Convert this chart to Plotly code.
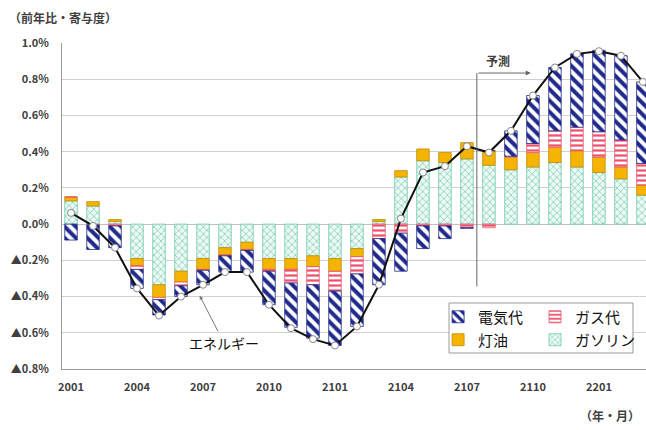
import plotly.graph_objects as go

months = ["2001", "2002", "2003", "2004", "2005", "2006", "2007", "2008", "2009",
          "2010", "2011", "2012", "2101", "2102", "2103", "2104", "2105", "2106",
          "2107", "2108", "2109", "2110", "2111", "2112", "2201", "2202", "2203"]

gasoline = [0.128, 0.10, 0.015, -0.19, -0.335, -0.26, -0.19, -0.13, -0.10,
            -0.19, -0.19, -0.175, -0.19, -0.135, 0.015, 0.26, 0.35, 0.34,
            0.36, 0.325, 0.30, 0.315, 0.34, 0.315, 0.285, 0.25, 0.16]
kerosene = [0.022, 0.024, 0.01, -0.04, -0.07, -0.06, -0.06, -0.04, -0.04,
            -0.06, -0.06, -0.06, -0.07, -0.045, 0.01, 0.035, 0.065, 0.055,
            0.09, 0.08, 0.07, 0.08, 0.085, 0.09, 0.085, 0.065, 0.055]
gas = [0.0, -0.005, -0.01, -0.02, -0.012, -0.02, -0.005, -0.005, -0.005,
       -0.01, -0.075, -0.10, -0.11, -0.095, -0.08, -0.05, -0.01, -0.01,
       -0.02, -0.02, 0.005, 0.05, 0.09, 0.13, 0.14, 0.15, 0.12]
electricity = [-0.088, -0.135, -0.12, -0.105, -0.085, -0.06, -0.08, -0.09, -0.12,
               -0.185, -0.245, -0.295, -0.30, -0.29, -0.255, -0.21, -0.125, -0.07,
               -0.003, 0.0, 0.14, 0.265, 0.35, 0.405, 0.45, 0.465, 0.45]
energy_total = [0.062, -0.01, -0.13, -0.355, -0.505, -0.40, -0.335, -0.265, -0.265,
                -0.445, -0.575, -0.635, -0.67, -0.565, -0.335, 0.03, 0.285, 0.32,
                0.43, 0.395, 0.515, 0.71, 0.865, 0.94, 0.955, 0.93, 0.785]

x_tick_labels = ["2001", "2004", "2007", "2010", "2101", "2104", "2107", "2110", "2201"]
y_tick_vals = [1.0, 0.8, 0.6, 0.4, 0.2, 0.0, -0.2, -0.4, -0.6, -0.8]
y_tick_text = ["1.0%", "0.8%", "0.6%", "0.4%", "0.2%", "0.0%",
               "▲0.2%", "▲0.4%", "▲0.6%", "▲0.8%"]

FONT = "Noto Sans CJK JP"

fig = go.Figure()

fig.add_trace(go.Bar(
    x=months, y=gasoline, name="ガソリン", legend="legend4",
    marker=dict(color="#eef9f4",
                pattern=dict(shape="x", fgcolor="#5cc6a4", bgcolor="#eef9f4",
                             size=5, solidity=0.22, fillmode="replace"),
                line=dict(color="#6ccab0", width=0.8)),
))
fig.add_trace(go.Bar(
    x=months, y=kerosene, name="灯油", legend="legend3",
    marker=dict(color="#f5b400", line=dict(color="#c08c00", width=0.8)),
))
fig.add_trace(go.Bar(
    x=months, y=gas, name="ガス代", legend="legend2",
    marker=dict(color="#ffffff",
                pattern=dict(shape="-", fgcolor="#f0506e", bgcolor="#ffffff",
                             size=5, solidity=0.45, fillmode="replace"),
                line=dict(color="#e8506a", width=0.8)),
))
fig.add_trace(go.Bar(
    x=months, y=electricity, name="電気代", legend="legend",
    marker=dict(color="#ffffff",
                pattern=dict(shape="\\", fgcolor="#1f2a8a", bgcolor="#ffffff",
                             size=8, solidity=0.5, fillmode="replace"),
                line=dict(color="#1f2a8a", width=0.8)),
))
fig.add_trace(go.Scatter(
    x=months, y=energy_total, name="エネルギー", mode="lines+markers",
    showlegend=False,
    line=dict(color="#111111", width=2),
    marker=dict(symbol="circle", size=7, color="#ffffff",
                line=dict(color="#888888", width=1)),
))

# 予測 bracket arrow
fig.add_shape(type="line", xref="x", yref="y", x0=18.45, x1=18.45, y0=-0.345, y1=0.834,
              line=dict(color="#666666", width=1))
fig.add_annotation(x=20.9, y=0.834, ax=18.45, ay=0.834, xref="x", yref="y",
                   axref="x", ayref="y", text="", showarrow=True,
                   arrowhead=2, arrowsize=1, arrowwidth=1, arrowcolor="#666666")
fig.add_annotation(x=19.4, y=0.904, xref="x", yref="y", text="予測", showarrow=False,
                   font=dict(family=FONT, size=12, color="#404040", weight="bold"))

# エネルギー label
fig.add_annotation(x=5.85, y=-0.395, ax=6.95, ay=-0.655, xref="x", yref="y",
                   axref="x", ayref="y", text="エネルギー", showarrow=True,
                   arrowhead=2, arrowsize=0.8, arrowwidth=1, arrowcolor="#777777",
                   font=dict(family=FONT, size=14, color="#111111"))

fig.add_annotation(x=-0.094, y=1.077, xref="paper", yref="paper", xanchor="left",
                   yanchor="middle", text="（前年比・寄与度）", showarrow=False,
                   font=dict(family=FONT, size=12, color="#404040", weight="bold"))
fig.add_annotation(x=0.993, y=-0.144, xref="paper", yref="paper", xanchor="right",
                   yanchor="middle", text="（年・月）", showarrow=False,
                   font=dict(family=FONT, size=12, color="#404040", weight="bold"))

# legend frame
fig.add_shape(type="rect", xref="paper", yref="paper", x0=0.6627, x1=0.9777,
              y0=0.049, y1=0.2025, layer="above",
              fillcolor="#ffffff", line=dict(color="#999999", width=1))

leg_common = dict(orientation="v", xanchor="left", yanchor="middle",
                  bgcolor="rgba(0,0,0,0)", borderwidth=0,
                  font=dict(family=FONT, size=15, color="#111111"))

tick_font = dict(family=FONT, size=11, color="#404040", weight="bold")

fig.update_layout(
    width=646, height=430,
    margin=dict(l=62, r=0, t=43, b=61),
    barmode="relative", bargap=0.43,
    plot_bgcolor="#ffffff", paper_bgcolor="#ffffff",
    font=dict(family=FONT, size=11, color="#333333"),
    legend=dict(x=0.644, y=0.1595, **leg_common),
    legend2=dict(x=0.810, y=0.1595, **leg_common),
    legend3=dict(x=0.644, y=0.089, **leg_common),
    legend4=dict(x=0.810, y=0.089, **leg_common),
    xaxis=dict(type="category", range=[-0.41, 26.14], tickmode="array",
               tickvals=x_tick_labels, ticktext=x_tick_labels, ticks="",
               showgrid=False, showline=True, linecolor="#999999", linewidth=1,
               ticklabelstandoff=8, tickfont=tick_font),
    yaxis=dict(range=[-0.8, 1.0], tickmode="array", tickvals=y_tick_vals,
               ticktext=y_tick_text, showgrid=True, gridcolor="#d0d0d0", gridwidth=1,
               zeroline=True, zerolinecolor="#c0c0c0", zerolinewidth=1,
               showline=True, linecolor="#999999", linewidth=1, mirror=False,
               ticks="", ticklabelstandoff=10, tickfont=tick_font),
)

fig.write_html("out.html", config={"displayModeBar": False},
               post_script="document.body.style.margin='0px';")
